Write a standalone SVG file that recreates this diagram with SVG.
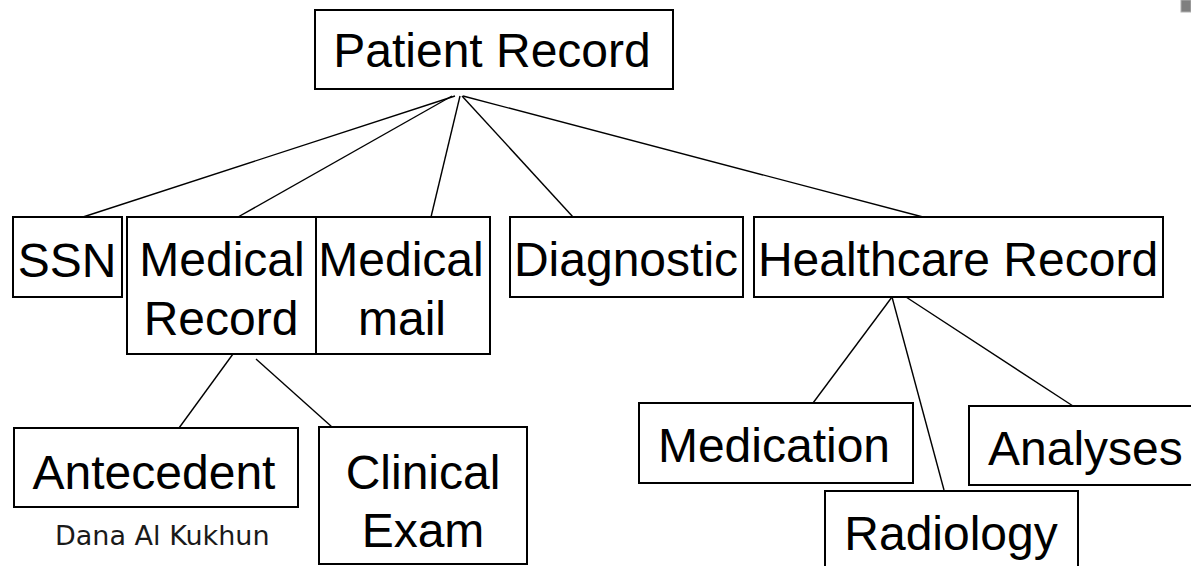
<svg xmlns="http://www.w3.org/2000/svg" width="1191" height="566" viewBox="0 0 1191 566">
<style>
.box{fill:#fff;stroke:#000;stroke-width:2}
.lbl{font-family:"Liberation Sans",Arial,sans-serif;font-size:48px;fill:#000;text-anchor:middle}
.ln{stroke:#000;stroke-width:1.4;fill:none}
</style>
<rect width="1191" height="566" fill="#fff"/>
<rect x="1181" y="0" width="10" height="12" fill="#7f7f7f" stroke="#b0b0b0" stroke-width="1"/>
<g id="connectors">
<line class="ln" x1="455" y1="96" x2="83" y2="217"/>
<line class="ln" x1="452" y1="96" x2="238" y2="217"/>
<line class="ln" x1="460" y1="96" x2="431" y2="217"/>
<line class="ln" x1="462" y1="96" x2="573" y2="217"/>
<line class="ln" x1="463" y1="96" x2="923" y2="217"/>
<line class="ln" x1="241" y1="343" x2="179" y2="428"/>
<line class="ln" x1="256" y1="359" x2="332" y2="427"/>
<line class="ln" x1="892" y1="297" x2="813" y2="403"/>
<line class="ln" x1="892" y1="297" x2="944" y2="490"/>
<line class="ln" x1="906" y1="297" x2="1073" y2="406"/>
</g>
<g id="patient-record"><rect class="box" x="315" y="10" width="358" height="79"/><text class="lbl" x="492" y="67">Patient Record</text></g>
<g id="ssn"><rect class="box" x="13" y="217" width="109" height="80"/><text class="lbl" x="67" y="277">SSN</text></g>
<g id="medical-record"><rect class="box" x="127" y="217" width="189" height="137"/><text class="lbl" x="222" y="276">Medical</text><text class="lbl" x="221" y="335">Record</text></g>
<g id="medical-mail"><rect class="box" x="316" y="217" width="174" height="137"/><text class="lbl" x="401" y="276">Medical</text><text class="lbl" x="402" y="335">mail</text></g>
<g id="diagnostic"><rect class="box" x="510" y="217" width="233" height="80"/><text class="lbl" x="626" y="276">Diagnostic</text></g>
<g id="healthcare-record"><rect class="box" x="754" y="217" width="409" height="80"/><text class="lbl" x="958" y="276">Healthcare Record</text></g>
<g id="antecedent"><rect class="box" x="14" y="428" width="284" height="79"/><text class="lbl" x="154" y="489">Antecedent</text></g>
<g id="clinical-exam"><rect class="box" x="319" y="427" width="208" height="137"/><text class="lbl" x="423" y="489">Clinical</text><text class="lbl" x="423" y="547">Exam</text></g>
<g id="medication"><rect class="box" x="639" y="403" width="274" height="80"/><text class="lbl" x="774" y="462">Medication</text></g>
<g id="radiology"><rect class="box" x="825" y="491" width="253" height="90"/><text class="lbl" x="951" y="550">Radiology</text></g>
<g id="analyses"><rect class="box" x="969" y="406" width="240" height="79"/><text class="lbl" x="988" y="465" style="text-anchor:start">Analyses</text></g>
<text x="55" y="545" style="font-family:'DejaVu Sans',Verdana,sans-serif;font-size:27px;fill:#1a1a1a">Dana Al Kukhun</text>
</svg>
